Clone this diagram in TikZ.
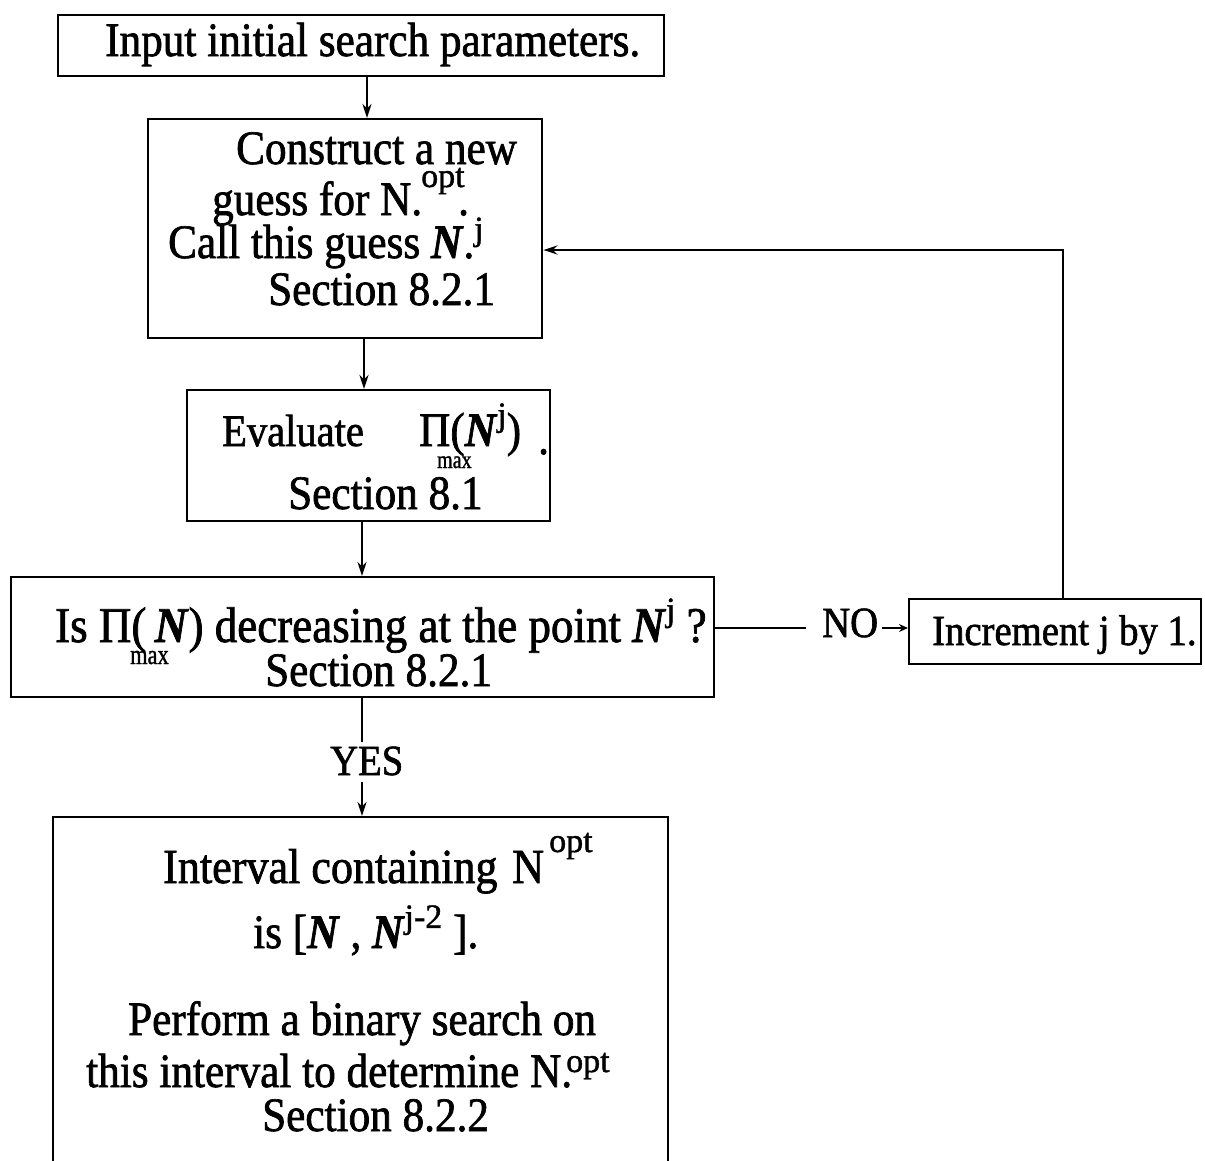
\documentclass[tikz,border=0pt]{standalone}
\usepackage{fontspec}
\setmainfont{Liberation Serif}[FakeStretch=0.9,FakeBold=1.4]
\newfontfamily\supfont{Liberation Serif}[FakeBold=1.2]
\newfontfamily\subfont{Liberation Serif}[FakeStretch=0.8,FakeBold=1.2]
\usetikzlibrary{arrows.meta}
\newcommand\myN{\textbf{\textit{N}}}
\newcommand\mysup[1]{\raisebox{0.42em}{\supfont\fontsize{34}{36}\selectfont #1}}
\newcommand\fsz[1]{\fontsize{#1}{#1}\selectfont}
\begin{document}
\begin{tikzpicture}[x=1pt,y=-1pt,
  box/.style={draw, line width=2.4pt, inner sep=0pt, anchor=north west},
  txt/.style={anchor=base west, inner sep=0pt, font=\fsz{48}},
  suptxt/.style={anchor=base west, inner sep=0pt, font=\supfont\fsz{34}},
  subtxt/.style={anchor=base west, inner sep=0pt, font=\subfont\fsz{25}},
  conn/.style={line width=2.4pt},
  arr/.style={conn, -{Stealth[length=14pt,width=9pt]}}]
\useasboundingbox (0,0) rectangle (1205,1160);
\clip (0,0) rectangle (1205,1160);

% boxes
\node[box, minimum width=606pt, minimum height=61pt] (b1) at (57,14) {};
\node[box, minimum width=394pt, minimum height=219pt] (b2) at (147,118) {};
\node[box, minimum width=363pt, minimum height=131pt] (b3) at (186,389) {};
\node[box, minimum width=703pt, minimum height=120pt] (b4) at (10,576) {};
\node[box, minimum width=292pt, minimum height=65pt] (b5) at (908,598) {};
\node[box, minimum width=615pt, minimum height=420pt] (b6) at (52,816) {};

% box 1 text
\node[txt] (t1) at (105,56) {Input initial search parameters.};

% box 2 text
\node[txt] (t2a) at (236,164) {Construct a new};
\node[suptxt] (t2s) at (421,187) {opt};
\node[txt] (t2b) at (212,215) {guess for N.};
\node[txt] (t2d) at (458,215) {.};
\node[txt] (t2c) at (168,258) {Call this guess \myN.};
\node[suptxt] (t2j) at (474,240) {j};
\node[txt] (t2e) at (268,305) {Section 8.2.1};

% box 3 text
\node[txt, font=\fsz{45}] (t3a) at (222,446) {Evaluate};
\node[txt] (t3b) at (419,446) {Π(\myN\mysup{j})};
\node[txt] (t3c) at (538,454) {.};
\node[subtxt] (t3m) at (437,468) {max};
\node[txt] (t3d) at (288,509) {Section 8.1};

% box 4 text
\node[txt, font=\fsz{50}] (t4a) at (55,642) {Is Π(\,\myN) decreasing at the point \myN\mysup{j} ?};
\node[subtxt, font=\subfont\fsz{28}] (t4m) at (130,664) {max};
\node[txt] (t4b) at (265,686) {Section 8.2.1};

% box 5 text
\node[txt, font=\fsz{43}] (t5) at (932,645) {Increment j by 1.};

% NO / YES labels
\node[txt, font=\fsz{43}] (no) at (822,637) {NO};
\node[txt, font=\fsz{43}] (yes) at (330,775) {YES};

% box 6 text
\node[txt, font=\fsz{49}] (t6a) at (163,883) {Interval containing\hspace{0.3em}N};
\node[suptxt] (t6s) at (549,852) {opt};
\node[txt] (t6b) at (253,948) {is [\myN\ , \myN\mysup{j-2} ].};
\node[txt] (t6c) at (128,1035) {Perform a binary search on};
\node[txt] (t6d) at (86,1087) {this interval to determine N.};
\node[suptxt] (t6t) at (566,1072) {opt};
\node[txt] (t6e) at (262,1131) {Section 8.2.2};

% connector points
\coordinate (noL) at (no.west |- b4.east);
\coordinate (noR) at (no.east |- b5.west);
\coordinate (turn) at (1063,250);
\coordinate (yesT) at (362,742);
\coordinate (yesB) at (362,782);

% connectors
\draw[arr] (b1.south -| 367,0) -- (b2.north -| 367,0);
\draw[arr] (b2.south -| 364,0) -- (b3.north -| 364,0);
\draw[arr] (b3.south -| 362,0) -- (b4.north -| 362,0);
\draw[conn] (b4.east |- 0,628) -- ([xshift=-16pt]noL |- 0,628);
\draw[line width=1.8pt, -{Stealth[length=9pt,width=8pt]}] ([xshift=4pt]noR |- 0,628) -- (b5.west |- 0,628);
\draw[arr] (b5.north -| turn) -- (turn) -- (b2.east |- turn);
\draw[conn] (b4.south -| yesT) -- (yesT);
\draw[arr] (yesB) -- (b6.north -| yesB);
\end{tikzpicture}
\end{document}
